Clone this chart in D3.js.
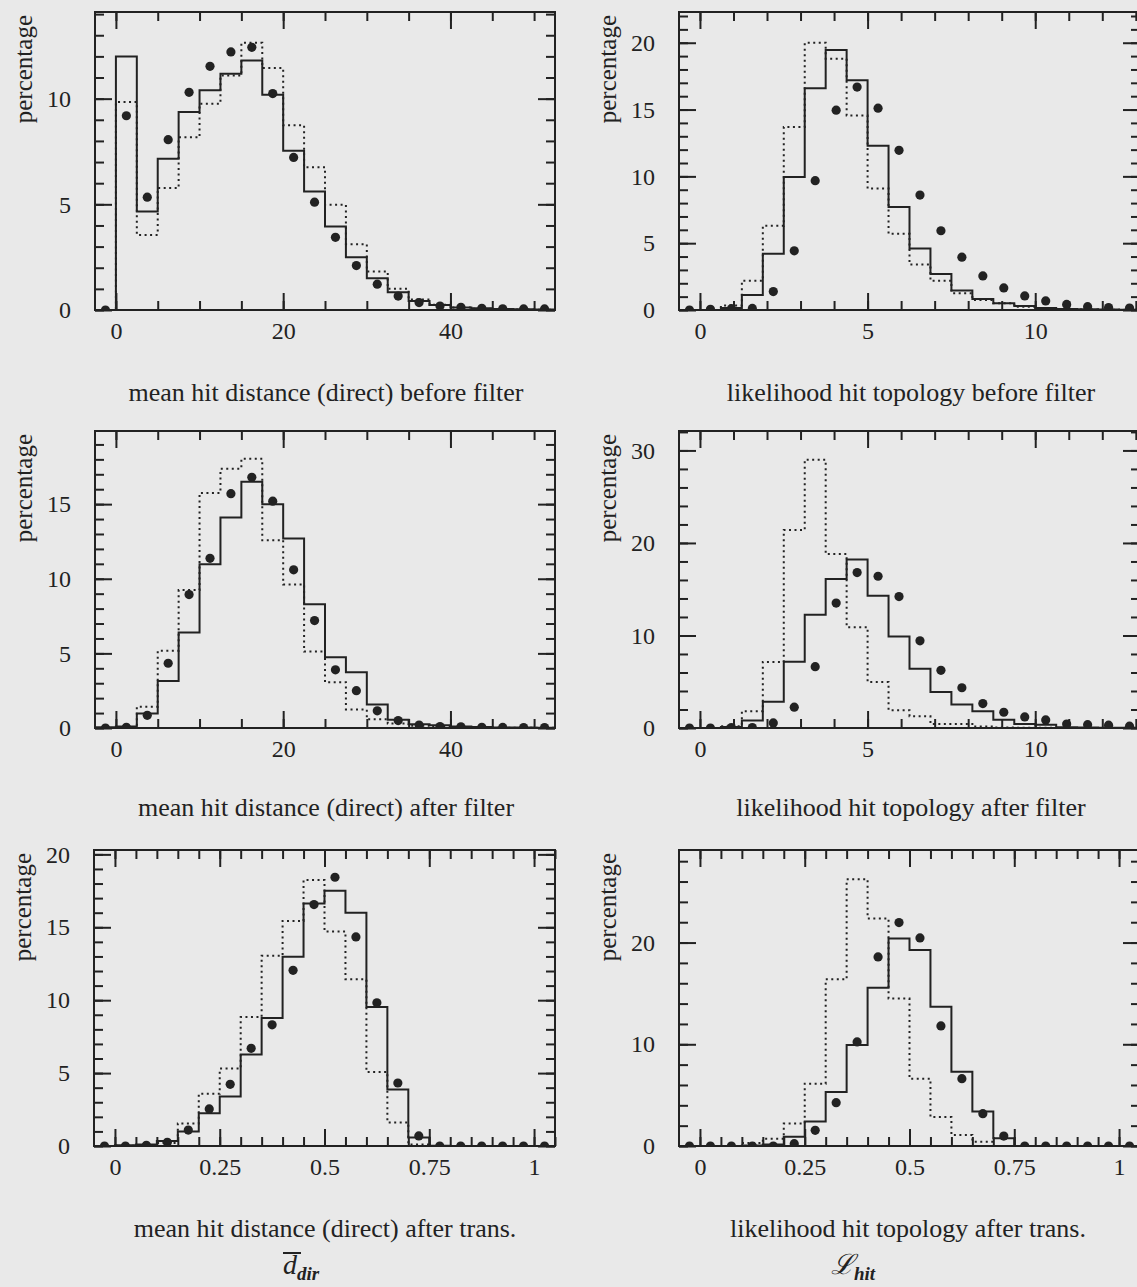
<!DOCTYPE html>
<html>
<head>
<meta charset="utf-8">
<script src="https://cdn.jsdelivr.net/npm/d3@7/dist/d3.min.js"></script>
<style>
  body { margin: 0; background: #e9e9e9; }
  svg text { font-family: "Liberation Serif", "Times New Roman", serif; fill: #222; }
</style>
</head>
<body>
<div id="chart"></div>
<script>
// Data: 22 bins per panel, bin i covers [(i-1)*w, i*w]
var binWidths = [2.5, 0.625, 2.5, 0.625, 0.05, 0.05];
var yTops     = [14.1, 22.3, 19.9, 32.1, 20.3, 29.1];

var titles = [
	'mean hit distance (direct) before filter',
	'likelihood hit topology before filter',
	'mean hit distance (direct) after filter',
	'likelihood hit topology after filter',
	'mean hit distance (direct) after trans.',
	'likelihood hit topology after trans.'
];

var xLabelsDist  = [0, 20, 40];
var xLabelsLike  = [0, 5, 10];
var xLabelsTrans = [0, 0.25, 0.5, 0.75, 1];

// top-left: mean hit distance before filter
var tlSolid  = [0, 12.0, 4.66, 7.16, 9.37, 10.4, 11.18, 11.8, 10.19, 7.54, 5.61, 3.95, 2.5, 1.5, 0.84, 0.43, 0.24, 0.12, 0.08, 0.05, 0.03, 0.02];
var tlDotted = [0, 9.84, 3.55, 5.77, 8.17, 9.76, 11.09, 12.64, 11.45, 8.74, 6.75, 4.98, 3.11, 1.82, 1.0, 0.5, 0.25, 0.12, 0.06, 0.04, 0.02, 0.01];
var tlDots   = [0, 9.19, 5.34, 8.06, 10.3, 11.53, 12.21, 12.43, 10.24, 7.22, 5.1, 3.44, 2.1, 1.22, 0.66, 0.35, 0.19, 0.13, 0.08, 0.06, 0.05, 0.05];

// top-right: likelihood hit topology before filter
var trSolid  = [0, 0, 0.15, 1.12, 4.2, 9.95, 16.6, 19.45, 17.2, 12.3, 7.7, 4.6, 2.7, 1.45, 0.82, 0.5, 0.3, 0.15, 0.08, 0.05, 0.03, 0.02];
var trDotted = [0, 0, 0.33, 2.18, 6.3, 13.7, 20.0, 18.8, 14.55, 9.1, 5.7, 3.4, 2.18, 1.25, 0.75, 0.5, 0.25, 0.12, 0.06, 0.04, 0.02, 0.01];
var trDots   = [0, 0.05, 0.1, 0.12, 1.38, 4.43, 9.68, 14.95, 16.68, 15.1, 11.95, 8.6, 5.93, 3.95, 2.55, 1.65, 1.05, 0.68, 0.42, 0.25, 0.18, 0.15];

// middle-left: mean hit distance after filter
var mlSolid  = [0.05, 0.1, 0.97, 3.15, 6.4, 10.97, 14.1, 16.5, 15.0, 12.7, 8.3, 4.74, 3.73, 1.57, 0.56, 0.25, 0.18, 0.1, 0.06, 0.04, 0.03, 0.02];
var mlDotted = [0, 0.05, 1.42, 5.17, 9.24, 15.75, 17.37, 18.04, 12.58, 9.62, 5.12, 3.06, 1.24, 0.58, 0.3, 0.15, 0.08, 0.05, 0.03, 0.02, 0.01, 0.01];
var mlDots   = [0, 0.05, 0.85, 4.34, 8.94, 11.37, 15.7, 16.8, 15.2, 10.6, 7.2, 3.9, 2.5, 1.15, 0.5, 0.2, 0.1, 0.08, 0.05, 0.04, 0.03, 0.03];

// middle-right: likelihood hit topology after filter
var mrSolid  = [0, 0, 0.1, 0.8, 2.83, 7.17, 12.25, 16.1, 18.2, 14.3, 9.9, 6.41, 3.88, 2.54, 1.81, 0.9, 0.43, 0.36, 0.08, 0.05, 0.03, 0.02];
var mrDotted = [0, 0, 0.2, 1.81, 7.14, 21.4, 29.0, 18.8, 10.9, 4.96, 1.92, 1.27, 0.43, 0.43, 0.15, 0.05, 0.03, 0.02, 0.01, 0, 0, 0];
var mrDots   = [0, 0, 0.05, 0.05, 0.55, 2.25, 6.63, 13.5, 16.8, 16.4, 14.2, 9.42, 6.23, 4.35, 2.64, 1.7, 1.2, 0.87, 0.43, 0.36, 0.3, 0.2];

// bottom-left: mean hit distance after transformation
var blSolid  = [0, 0.05, 0.1, 0.35, 1.0, 2.24, 3.39, 6.28, 8.78, 12.98, 16.63, 17.5, 16.0, 9.54, 3.88, 0.58, 0.02, 0, 0, 0, 0, 0];
var blDotted = [0, 0.02, 0.05, 0.2, 1.55, 3.58, 5.31, 8.85, 13.05, 15.43, 18.24, 14.71, 11.43, 5.08, 1.62, 0.1, 0, 0, 0, 0, 0, 0];
var blDots   = [0, 0, 0.05, 0.25, 1.09, 2.54, 4.23, 6.7, 8.31, 12.05, 16.56, 18.43, 14.34, 9.82, 4.32, 0.69, 0, 0, 0, 0, 0, 0];

// bottom-right: likelihood hit topology after transformation
var brSolid  = [0, 0, 0, 0.05, 0.15, 0.92, 2.4, 5.3, 9.93, 15.57, 20.4, 19.28, 13.7, 7.31, 3.38, 0.75, 0, 0, 0, 0, 0, 0];
var brDotted = [0, 0, 0, 0.3, 0.72, 2.2, 6.13, 16.39, 26.23, 22.36, 14.49, 6.62, 2.85, 1.08, 0.43, 0, 0, 0, 0, 0, 0, 0];
var brDots   = [0, 0, 0, 0, 0, 0.23, 1.54, 4.26, 10.23, 18.59, 21.97, 20.46, 11.8, 6.62, 3.18, 0.98, 0, 0, 0, 0, 0, 0];

// layout
var chart_width  = 1137;
var chart_height = 1287;
var frames = [
	{ left: 95,  right: 555,  top: 12,  bottom: 310 },
	{ left: 679, right: 1140, top: 12,  bottom: 310 },
	{ left: 95,  right: 555,  top: 431, bottom: 728 },
	{ left: 679, right: 1140, top: 431, bottom: 728 },
	{ left: 94,  right: 555,  top: 850, bottom: 1146 },
	{ left: 679, right: 1140, top: 850, bottom: 1146 }
];
var titlePos = [
	{ x: 326, y: 401 }, { x: 911, y: 401 },
	{ x: 326, y: 816 }, { x: 911, y: 816 },
	{ x: 325, y: 1237 }, { x: 908, y: 1237 }
];
var tickSteps = [
	{ xMinor: 5,    xMajor: 20,   yMinor: 1, yMajor: 5 },
	{ xMinor: 1,    xMajor: 5,    yMinor: 1, yMajor: 5 },
	{ xMinor: 5,    xMajor: 20,   yMinor: 1, yMajor: 5 },
	{ xMinor: 1,    xMajor: 5,    yMinor: 2, yMajor: 10 },
	{ xMinor: 0.05, xMajor: 0.25, yMinor: 1, yMajor: 5 },
	{ xMinor: 0.05, xMajor: 0.25, yMinor: 2, yMajor: 10 }
];

var panels = [
	{ solid: tlSolid, dotted: tlDotted, dots: tlDots, xLabels: xLabelsDist },
	{ solid: trSolid, dotted: trDotted, dots: trDots, xLabels: xLabelsLike },
	{ solid: mlSolid, dotted: mlDotted, dots: mlDots, xLabels: xLabelsDist },
	{ solid: mrSolid, dotted: mrDotted, dots: mrDots, xLabels: xLabelsLike },
	{ solid: blSolid, dotted: blDotted, dots: blDots, xLabels: xLabelsTrans },
	{ solid: brSolid, dotted: brDotted, dots: brDots, xLabels: xLabelsTrans }
];

var ink = '#222';
var svg = d3.select('#chart')
	.append('svg')
	.attr('width', chart_width)
	.attr('height', chart_height);

// tick positions from..to (inclusive, never past "to")
function steps(from, to, step) {
	var n = Math.floor((to - from) / step + 1e-6);
	return d3.range(0, n + 1).map(function(k) { return +(from + k * step).toFixed(4); });
}

function styleAxis(g) {
	g.attr('font-family', null).attr('font-size', null);
	g.select('.domain').remove();
	g.selectAll('line').attr('stroke', ink).attr('stroke-width', 2);
	g.selectAll('text').attr('fill', ink).style('font-size', '24px');
}

panels.forEach(function(p, i) {
	var f = frames[i];
	var w = binWidths[i];
	var t = tickSteps[i];
	var x = d3.scaleLinear().domain([-w, 21 * w]).range([f.left, f.right]);
	var y = d3.scaleLinear().domain([0, yTops[i]]).range([f.bottom, f.top]);
	var g = svg.append('g');

	g.append('clipPath').attr('id', 'clip' + i)
		.append('rect')
		.attr('x', f.left).attr('y', f.top)
		.attr('width', f.right - f.left).attr('height', f.bottom - f.top);

	var xMinor = steps(0, 21 * w, t.xMinor);
	var xMajor = steps(0, 21 * w, t.xMajor);
	var yMinor = steps(0, yTops[i], t.yMinor);
	var yMajor = steps(0, yTops[i], t.yMajor);

	// inward ticks on all four sides
	g.append('g').attr('transform', 'translate(0,' + f.bottom + ')')
		.call(d3.axisBottom(x).tickValues(xMinor).tickSize(-9).tickFormat(''))
		.call(styleAxis);
	g.append('g').attr('transform', 'translate(0,' + f.bottom + ')')
		.call(d3.axisBottom(x).tickValues(p.xLabels).tickSize(-17).tickPadding(12).tickFormat(function(d) { return d; }))
		.call(styleAxis);
	g.append('g').attr('transform', 'translate(0,' + f.top + ')')
		.call(d3.axisTop(x).tickValues(xMinor).tickSize(-9).tickFormat(''))
		.call(styleAxis);
	g.append('g').attr('transform', 'translate(0,' + f.top + ')')
		.call(d3.axisTop(x).tickValues(xMajor).tickSize(-17).tickFormat(''))
		.call(styleAxis);
	g.append('g').attr('transform', 'translate(' + f.left + ',0)')
		.call(d3.axisLeft(y).tickValues(yMinor).tickSize(-9).tickFormat(''))
		.call(styleAxis);
	g.append('g').attr('transform', 'translate(' + f.left + ',0)')
		.call(d3.axisLeft(y).tickValues(yMajor).tickSize(-17).tickPadding(24).tickFormat(d3.format('d')))
		.call(styleAxis);
	g.append('g').attr('transform', 'translate(' + f.right + ',0)')
		.call(d3.axisRight(y).tickValues(yMinor).tickSize(-9).tickFormat(''))
		.call(styleAxis);
	g.append('g').attr('transform', 'translate(' + f.right + ',0)')
		.call(d3.axisRight(y).tickValues(yMajor).tickSize(-17).tickFormat(''))
		.call(styleAxis);

	// histograms
	var line = d3.line()
		.x(function(d) { return x(d[0]); })
		.y(function(d) { return y(d[1]); })
		.curve(d3.curveStepAfter);
	function outline(vals) {
		var pts = [[-w, 0]];
		vals.forEach(function(v, k) { pts.push([(k - 1) * w, v]); });
		pts.push([21 * w, vals[vals.length - 1]]);
		pts.push([21 * w, 0]);
		return pts;
	}
	g.append('path')
		.attr('d', line(outline(p.dotted)))
		.attr('clip-path', 'url(#clip' + i + ')')
		.attr('fill', 'none')
		.attr('stroke', ink)
		.attr('stroke-width', 2)
		.attr('stroke-dasharray', '2,3.5');
	g.append('path')
		.attr('d', line(outline(p.solid)))
		.attr('clip-path', 'url(#clip' + i + ')')
		.attr('fill', 'none')
		.attr('stroke', ink)
		.attr('stroke-width', 2);

	g.append('g').attr('clip-path', 'url(#clip' + i + ')')
		.selectAll('circle')
		.data(p.dots)
		.enter()
		.append('circle')
		.attr('cx', function(d, k) { return x((k - 0.5) * w); })
		.attr('cy', function(d) { return y(d); })
		.attr('r', 4.6)
		.attr('fill', ink);

	// frame
	g.append('rect')
		.attr('x', f.left).attr('y', f.top)
		.attr('width', f.right - f.left).attr('height', f.bottom - f.top)
		.attr('fill', 'none')
		.attr('stroke', ink)
		.attr('stroke-width', 2);

	g.append('text')
		.attr('transform', 'translate(' + (f.left - 63) + ',' + (f.top + 3) + ') rotate(-90)')
		.attr('text-anchor', 'end')
		.style('font-size', '25px')
		.text('percentage');

	g.append('text')
		.attr('x', titlePos[i].x)
		.attr('y', titlePos[i].y)
		.attr('text-anchor', 'middle')
		.style('font-size', '26px')
		.text(titles[i]);
});

// variable symbols under the bottom row
var dSym = svg.append('text').attr('x', 283).attr('y', 1274).style('font-size', '28px');
dSym.append('tspan').style('font-style', 'italic').text('d');
dSym.append('tspan').attr('dy', 6).style('font-size', '19px').style('font-style', 'italic').style('font-weight', 'bold').text('dir');
svg.append('line')
	.attr('x1', 283).attr('x2', 301)
	.attr('y1', 1253).attr('y2', 1253)
	.attr('stroke', ink).attr('stroke-width', 2);

var lSym = svg.append('text').attr('x', 831).attr('y', 1274).style('font-size', '28px');
lSym.append('tspan').style('font-family', '"DejaVu Serif", serif').style('font-style', 'italic').text('\u2112');
lSym.append('tspan').attr('dy', 6).style('font-size', '19px').style('font-style', 'italic').style('font-weight', 'bold').text('hit');
</script>
</body>
</html>
